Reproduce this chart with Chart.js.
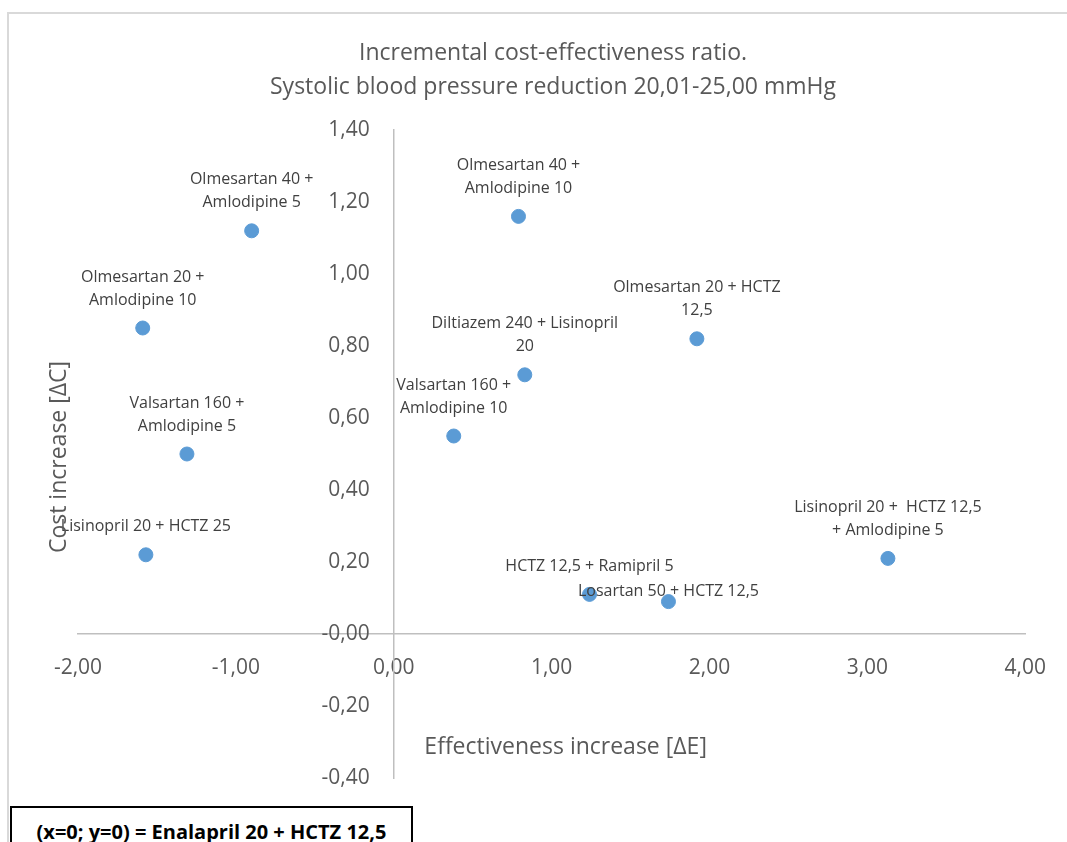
<!DOCTYPE html>
<html>
<head>
<meta charset="utf-8">
<script src="https://cdn.jsdelivr.net/npm/chart.js@4/dist/chart.umd.min.js"></script>
<style>
  html, body { margin: 0; padding: 0; background: #fff; overflow: hidden; }
  #wrap { position: relative; width: 1067px; height: 842px; }
  #frame {
    position: absolute; left: 7px; top: 12px; width: 1080px; height: 860px;
    border: 2px solid #d9d9d9; box-sizing: border-box;
  }
  #chart { position: absolute; left: 0; top: 0; }
  #note {
    position: absolute; left: 10px; top: 806px; width: 403px; height: 60px;
    border: 2px solid #000; box-sizing: border-box; background: #fff;
    font-family: "Open Sans", sans-serif; font-weight: bold; font-size: 20px;
    color: #000; text-align: center; padding-top: 10px; white-space: nowrap;
  }
</style>
</head>
<body>
<div id="wrap">
  <div id="frame"></div>
  <canvas id="chart" width="1067" height="842"></canvas>
  <div id="note">(x=0; y=0) = Enalapril 20 + HCTZ 12,5</div>
</div>
<script>
// Data
const treatments = [
  ['Olmesartan 40 +', 'Amlodipine 5'],
  ['Olmesartan 20 +', 'Amlodipine 10'],
  ['Valsartan 160 +', 'Amlodipine 5'],
  ['Lisinopril 20 + HCTZ 25'],
  ['Olmesartan 40 +', 'Amlodipine 10'],
  ['Olmesartan 20 + HCTZ', '12,5'],
  ['Diltiazem 240 + Lisinopril', '20'],
  ['Valsartan 160 +', 'Amlodipine 10'],
  ['HCTZ 12,5 + Ramipril 5'],
  ['Losartan 50 + HCTZ 12,5'],
  ['Lisinopril 20 +  HCTZ 12,5', '+ Amlodipine 5'],
];
const effectInc = [-0.90, -1.59, -1.31, -1.57, 0.79, 1.92, 0.83, 0.38, 1.24, 1.74, 3.13];
const costInc = [1.12, 0.85, 0.50, 0.22, 1.16, 0.82, 0.72, 0.55, 0.11, 0.09, 0.21];

const chartTitle = ['Incremental cost-effectiveness ratio.', 'Systolic blood pressure reduction 20,01-25,00 mmHg'];
const xTitle = 'Effectiveness increase [ΔE]';
const yTitle = 'Cost increase [ΔC]';

const points = effectInc.map((x, i) => ({ x: x, y: costInc[i] }));

const FONT = '"Open Sans", sans-serif';
const fmt = (v) => v.toFixed(2).replace('.', ',');

// point labels and axis titles drawn on top of the chart
const labelPlugin = {
  id: 'pointLabels',
  afterDatasetsDraw(chart) {
    const ctx = chart.ctx;
    const meta = chart.getDatasetMeta(0);
    ctx.save();
    ctx.font = '16px ' + FONT;
    ctx.fillStyle = '#404040';
    ctx.textAlign = 'center';
    ctx.textBaseline = 'middle';
    meta.data.forEach((pt, i) => {
      const lines = treatments[i];
      // Losartan label sits just above its point
      const lift = i === 9 ? 10 : 28;
      for (let k = 0; k < lines.length; k++) {
        const y = pt.y - lift - (lines.length - 1 - k) * 23;
        ctx.fillText(lines[k], pt.x, y);
      }
    });
    ctx.restore();
  },
  afterDraw(chart) {
    const ctx = chart.ctx;
    const a = chart.chartArea;
    ctx.save();
    ctx.font = '23px ' + FONT;
    ctx.fillStyle = '#595959';
    ctx.textAlign = 'center';
    ctx.textBaseline = 'middle';
    ctx.fillText(xTitle, (a.left + a.right) / 2 + 14, a.bottom - 31);
    ctx.translate(a.left - 19, (a.top + a.bottom) / 2 + 3);
    ctx.rotate(-Math.PI / 2);
    ctx.fillText(yTitle, 0, 0);
    ctx.restore();
  }
};

const chart = new Chart(document.getElementById('chart'), {
  type: 'scatter',
  data: {
    datasets: [{
      data: points,
      backgroundColor: '#5b9bd5',
      borderColor: '#5b9bd5',
      pointRadius: 7,
      pointHoverRadius: 7,
    }],
  },
  options: {
    responsive: false,
    animation: false,
    layout: {
      padding: { left: 78, right: 39, top: 0, bottom: 64 },
    },
    plugins: {
      legend: { display: false },
      tooltip: { enabled: false },
      title: {
        display: true,
        text: chartTitle,
        color: '#595959',
        font: { family: FONT, size: 23, weight: 'normal', lineHeight: 1.5 },
        padding: { top: 36, bottom: 25 },
      },
    },
    scales: {
      x: {
        type: 'linear',
        position: { y: 0 },
        min: -2,
        max: 4,
        grid: { display: false, drawTicks: false },
        border: { display: true, color: '#bfbfbf', width: 1.5 },
        ticks: {
          stepSize: 1,
          padding: 21,
          color: '#595959',
          font: { family: FONT, size: 21 },
          callback: fmt,
        },
      },
      y: {
        type: 'linear',
        position: { x: 0 },
        min: -0.4,
        max: 1.4,
        grid: { display: false, drawTicks: false },
        border: { display: true, color: '#bfbfbf', width: 1.5 },
        ticks: {
          stepSize: 0.2,
          color: '#595959',
          font: { family: FONT, size: 21 },
          // centred axis labels get no padding, so pad with two figure spaces
          callback: (v) => fmt(v) + '\u2007\u2007',
        },
      },
    },
  },
  plugins: [labelPlugin],
});
</script>
</body>
</html>
